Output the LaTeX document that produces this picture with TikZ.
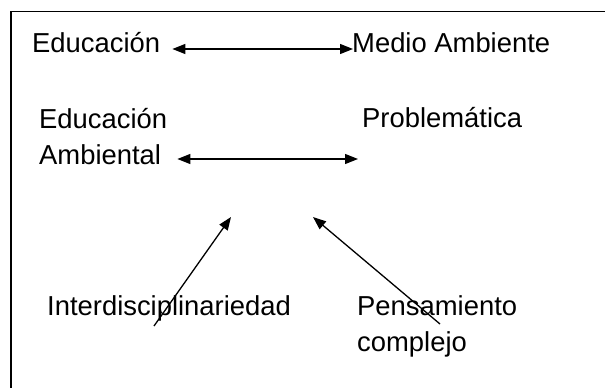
\documentclass[tikz,border=0pt]{standalone}
\usepackage{fontspec}
\setmainfont{Liberation Sans}
\usetikzlibrary{arrows.meta}

\begin{document}
\begin{tikzpicture}[x=1pt,y=-1pt]
        \useasboundingbox (0,0) rectangle (605,388);
        \draw[line width=1.8pt] (605,11.5) -- (11,11.5) -- (11,388);

        \begin{scope}[every node/.style={anchor=base west,inner sep=0pt,align=left,font=\fontsize{27.4}{36}\selectfont}]
            \node (Edu) at (32,52) {Educación};
            \node (MA) at (352,52) {Medio Ambiente};
            \node (EA) at (39,164) {Educación\\Ambiental};
            \node (Prob) at (362,127) {Problemática};
            \node (Inter) at (47,315) {Interdisciplinariedad};
            \node (PC) at (357,351) {Pensamiento\\complejo};
        \end{scope}

        \coordinate (AmbEnd) at (358,159);
        \coordinate (TipL) at (231,217);
        \coordinate (TipR) at (313,217);

        \begin{scope}[
                      every edge/.style={draw=black,line width=1.3pt},
                      >={Triangle[length=13pt,width=10pt]}]
            \path [<->] ([xshift=12pt,yshift=3pt]Edu.base east) edge ([xshift=1pt,yshift=3pt]MA.base west);
            \path [<->] ([xshift=10pt,yshift=5pt]EA.base east) edge (AmbEnd);
            \path [->] ([xshift=107pt,yshift=-11pt]Inter.base west) edge (TipL);
            \path [->] ([xshift=83pt,yshift=27pt]PC.base west) edge (TipR);
        \end{scope}
    \end{tikzpicture}
\end{document}
